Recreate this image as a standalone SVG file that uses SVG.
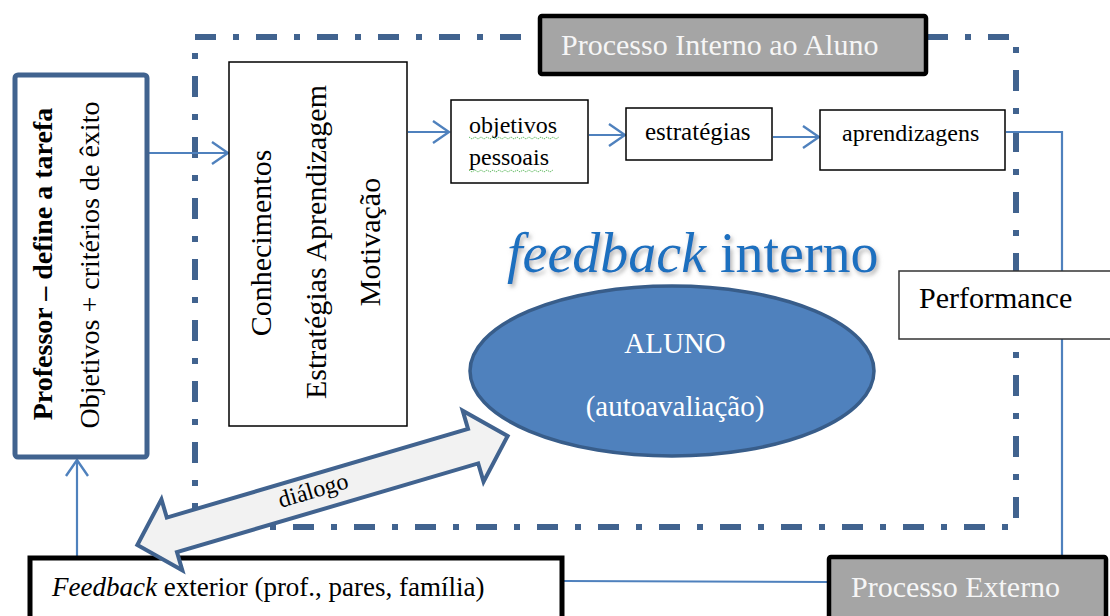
<svg xmlns="http://www.w3.org/2000/svg" width="1110" height="616" viewBox="0 0 1110 616">
<style>
  text { font-family: "Liberation Serif", "Times New Roman", serif; fill: #000; }
  .box { fill: #fff; stroke: #000; stroke-width: 1.5; }
  .gray { fill: #a5a5a5; stroke: #000; stroke-width: 4.5; }
  .wt { fill: #f6f6f6; font-size: 30px; }
  .conn { fill: none; stroke: #4f81bd; stroke-width: 2.2; }
  .arr { marker-end: url(#open); }
  .squig { fill: none; stroke: #5cb85c; stroke-width: 1; stroke-dasharray: 1.5 1; }
</style>
<defs>
  <marker id="open" viewBox="0 0 20 26" refX="18" refY="13" markerWidth="20" markerHeight="26" markerUnits="userSpaceOnUse" orient="auto">
    <path d="M2,2 L18,13 L2,24" fill="none" stroke="#4f81bd" stroke-width="2.4"/>
  </marker>
  <filter id="shadow" x="-10%" y="-30%" width="120%" height="160%">
    <feDropShadow dx="2" dy="3" stdDeviation="2" flood-color="#7f7f7f" flood-opacity="0.6"/>
  </filter>
</defs>

<g id="processo-interno-frame">
  <rect x="195" y="37" width="821" height="490" fill="none" stroke="#41638f" stroke-width="6" stroke-dasharray="21 17 6 17"/>
</g>

<g id="connectors">
  <line class="conn arr" x1="149" y1="153" x2="228" y2="153"/>
  <line class="conn arr" x1="408" y1="132" x2="449" y2="132"/>
  <line class="conn arr" x1="589" y1="135" x2="625" y2="135"/>
  <line class="conn arr" x1="773" y1="137" x2="819" y2="137"/>
  <polyline class="conn" points="1006,132 1062,132 1062,555"/>
  <polyline class="conn" points="564,581 828,582"/>
  <line class="conn arr" x1="77" y1="556" x2="77" y2="460"/>
</g>

<g id="professor">
  <rect x="15" y="75" width="132" height="382" rx="3" fill="#fff" stroke="#41638f" stroke-width="5"/>
  <text transform="translate(52,264) rotate(-90)" text-anchor="middle" font-size="28" font-weight="bold">Professor – define a tarefa</text>
  <text transform="translate(99,265) rotate(-90)" text-anchor="middle" font-size="28">Objetivos + critérios de êxito</text>
</g>

<g id="conhecimentos">
  <rect class="box" x="229" y="62" width="178" height="364"/>
  <text transform="translate(271,243) rotate(-90)" text-anchor="middle" font-size="30">Conhecimentos</text>
  <text transform="translate(326,242) rotate(-90)" text-anchor="middle" font-size="30">Estratégias  Aprendizagem</text>
  <text transform="translate(380,242) rotate(-90)" text-anchor="middle" font-size="30">Motivação</text>
</g>

<g id="objetivos">
  <rect class="box" x="451" y="100" width="137" height="83"/>
  <text x="469" y="133" font-size="24">objetivos</text>
  <text x="469" y="165" font-size="24">pessoais</text>
  <path class="squig" d="M469,137 l3,2 l3,-2 l3,2 l3,-2 l3,2 l3,-2 l3,2 l3,-2 l3,2 l3,-2 l3,2 l3,-2 l3,2 l3,-2 l3,2 l3,-2 l3,2 l3,-2 l3,2 l3,-2 l3,2 l3,-2 l3,2 l3,-2 l3,2 l3,-2 l3,2 l3,-2 l3,2 l3,-2"/>
  <path class="squig" d="M469,170 l3,2 l3,-2 l3,2 l3,-2 l3,2 l3,-2 l3,2 l3,-2 l3,2 l3,-2 l3,2 l3,-2 l3,2 l3,-2 l3,2 l3,-2 l3,2 l3,-2 l3,2 l3,-2 l3,2 l3,-2 l3,2 l3,-2 l3,2 l3,-2 l3,2 l3,-2"/>
</g>

<g id="estrategias">
  <rect class="box" x="626" y="108" width="146" height="52"/>
  <text x="645" y="140" font-size="25">estratégias</text>
</g>

<g id="aprendizagens">
  <rect class="box" x="820" y="110" width="185" height="60"/>
  <text x="842" y="141" font-size="24">aprendizagens</text>
</g>

<g id="processo-interno">
  <rect class="gray" x="540" y="16" width="386" height="58" rx="2"/>
  <text class="wt" x="561" y="55">Processo Interno ao Aluno</text>
</g>

<g id="feedback-interno">
  <text x="507" y="272" font-size="56" style="fill:#1f6fbf" filter="url(#shadow)"><tspan font-style="italic" style="fill:#1f6fbf">feedback</tspan><tspan style="fill:#1f6fbf"> interno</tspan></text>
</g>

<g id="performance">
  <rect x="899" y="271" width="215" height="68" fill="#fff" stroke="#333" stroke-width="1.5"/>
  <text x="919" y="308" font-size="30">Performance</text>
</g>

<g id="aluno">
  <ellipse cx="672" cy="371" rx="202" ry="85" fill="#4f81bd" stroke="#385d8a" stroke-width="3.5"/>
  <text x="675" y="353" font-size="29" text-anchor="middle" style="fill:#fff">ALUNO</text>
  <text x="675" y="416" font-size="29" text-anchor="middle" style="fill:#fff">(autoavaliação)</text>
</g>

<g id="feedback-exterior">
  <rect x="30" y="558" width="532" height="70" fill="#fff" stroke="#000" stroke-width="5"/>
  <text x="52" y="596" font-size="27"><tspan font-style="italic">Feedback</tspan> exterior (prof., pares, família)</text>
</g>

<g id="processo-externo">
  <rect class="gray" x="829" y="557" width="277" height="70" rx="2"/>
  <text class="wt" x="851" y="597">Processo Externo</text>
</g>

<g id="connector-dialogo" transform="translate(322.5,490.5) rotate(-16.4)">
  <path d="M-193,0 L-157,-37 L-157,-18 L157,-18 L157,-37 L193,0 L157,37 L157,18 L-157,18 L-157,37 Z" fill="#f2f2f2" stroke="#41638f" stroke-width="4" stroke-linejoin="miter"/>
  <text x="-9" y="5" font-size="24" text-anchor="middle">diálogo</text>
</g>
</svg>
